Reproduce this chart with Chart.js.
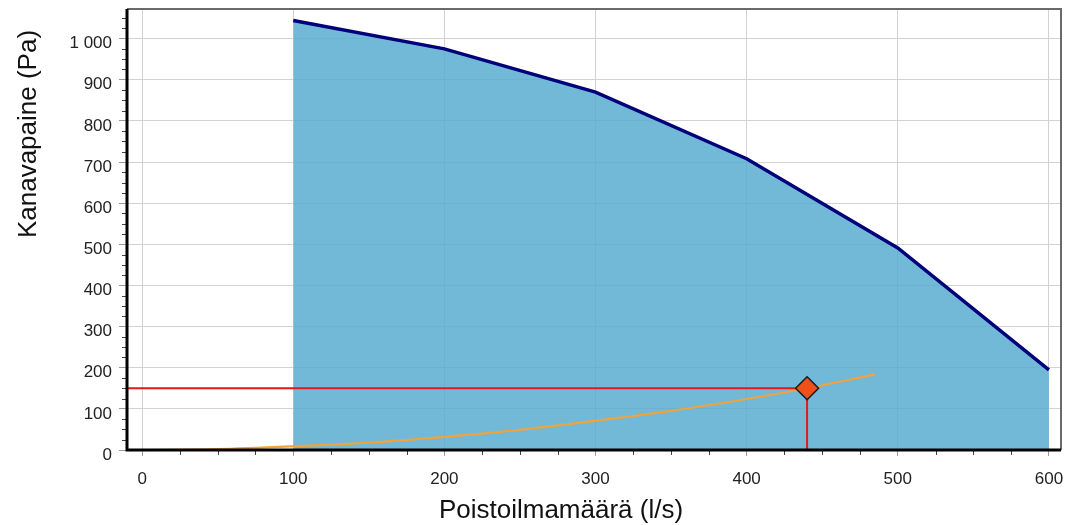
<!DOCTYPE html>
<html><head><meta charset="utf-8">
<script src="https://cdn.jsdelivr.net/npm/chart.js@4.4.0/dist/chart.umd.min.js"></script>
<style>html,body{margin:0;padding:0;background:#fff;}#wrap{width:1069px;height:525px;}</style>
</head><body><div id="wrap"><canvas id="c" width="1069" height="525"></canvas></div>
<script>
const xTitle = 'Poistoilmamäärä (l/s)';
const yTitle = 'Kanavapaine (Pa)';
const fanFlow = [100, 200, 300, 400, 500, 600];
const fanPressure = [1044, 975, 870, 708, 491, 195];
const systemFlow = [0, 50, 100, 150, 200, 250, 300, 350, 400, 440, 485];
const systemPressure = [0, 2, 9, 18, 32, 49, 71, 95, 124, 150, 184];
const opFlow = 440;
const opPressure = 150;
const xMin = -10, xMax = 608, yMin = 0, yMax = 1072;
const xTicks = [0, 100, 200, 300, 400, 500, 600];
const yTicks = [0, 100, 200, 300, 400, 500, 600, 700, 800, 900, 1000];
const minorStep = 25;

const FONT = "'Liberation Sans', Arial, sans-serif";
Chart.defaults.font.family = FONT;

function fmt(v) { return String(v).replace(/\B(?=(\d{3})+(?!\d))/g, '\u00a0'); }

const decor = {
  id: 'decor',
  afterDatasetsDraw(chart) {
    const ctx = chart.ctx, a = chart.chartArea;
    const xs = chart.scales.x, ys = chart.scales.y;
    ctx.save();
    ctx.strokeStyle = '#6a6a6a'; ctx.lineWidth = 2;
    ctx.beginPath();
    ctx.moveTo(a.left, a.top); ctx.lineTo(a.right, a.top); ctx.lineTo(a.right, a.bottom);
    ctx.stroke();
    ctx.strokeStyle = '#444'; ctx.lineWidth = 1;
    ctx.beginPath();
    for (let v = 0; v <= xMax; v += minorStep) {
      if (v % 100 === 0) continue;
      const px = Math.round(xs.getPixelForValue(v)) + 0.5;
      ctx.moveTo(px, a.bottom); ctx.lineTo(px, a.bottom + 5);
    }
    for (let v = 0; v <= yMax; v += minorStep) {
      if (v % 100 === 0) continue;
      const py = Math.round(ys.getPixelForValue(v)) + 0.5;
      ctx.moveTo(a.left - 5, py); ctx.lineTo(a.left, py);
    }
    ctx.stroke();
    ctx.strokeStyle = '#000'; ctx.lineWidth = 3;
    ctx.beginPath();
    ctx.moveTo(a.left, a.top); ctx.lineTo(a.left, a.bottom);
    ctx.moveTo(a.left - 1.5, a.bottom); ctx.lineTo(a.right, a.bottom);
    ctx.stroke();
    ctx.restore();
  },
  afterDraw(chart) {
    const ctx = chart.ctx;
    ctx.save();
    ctx.fillStyle = '#111';
    ctx.font = '26px ' + FONT;
    ctx.textAlign = 'center'; ctx.textBaseline = 'alphabetic';
    ctx.fillText(xTitle, 561, 518);
    ctx.translate(36, 134);
    ctx.rotate(-Math.PI / 2);
    ctx.fillText(yTitle, 0, 0);
    ctx.restore();
  }
};

new Chart(document.getElementById('c'), {
  type: 'line',
  data: {
    datasets: [
      {
        label: 'op', order: 0,
        data: [{x: opFlow, y: opPressure}],
        showLine: false, pointStyle: 'rectRot', pointRadius: 11.5,
        pointBackgroundColor: '#F04F17', pointBorderColor: '#1a1a1a', pointBorderWidth: 1.5
      },
      {
        label: 'red', order: 1,
        data: [{x: xMin, y: opPressure}, {x: opFlow, y: opPressure}, {x: opFlow, y: yMin}],
        borderColor: '#E8161C', borderWidth: 2, pointRadius: 0, fill: false
      },
      {
        label: 'system', order: 2,
        data: systemFlow.map((x, i) => ({x, y: systemPressure[i]})),
        borderColor: '#F0A23C', borderWidth: 2.2, pointRadius: 0, fill: false, tension: 0.3
      },
      {
        label: 'fan', order: 3,
        data: fanFlow.map((x, i) => ({x, y: fanPressure[i]})),
        borderColor: '#00007A', borderWidth: 3.5, pointRadius: 0,
        fill: 'origin', backgroundColor: 'rgba(89,173,209,0.85)', tension: 0
      }
    ]
  },
  options: {
    responsive: false, animation: false, devicePixelRatio: 1,
    layout: { autoPadding: false, padding: { top: 9, right: 8, left: 0, bottom: 0 } },
    plugins: { legend: { display: false }, tooltip: { enabled: false } },
    scales: {
      x: {
        type: 'linear', min: xMin, max: xMax,
        afterBuildTicks: s => { s.ticks = xTicks.map(v => ({value: v})); },
        afterFit: s => { s.height = 75; s.paddingLeft = 0; s.paddingRight = 0; },
        ticks: { font: { size: 17 }, color: '#222', padding: 13, maxRotation: 0, autoSkip: false, callback: v => fmt(v) },
        grid: { color: '#d2d2d2', lineWidth: 1, tickLength: 6, tickColor: '#9a9a9a' },
        border: { display: false }
      },
      y: {
        type: 'linear', min: yMin, max: yMax,
        afterBuildTicks: s => { s.ticks = yTicks.map(v => ({value: v})); },
        afterFit: s => { s.width = 127; s.paddingTop = 0; s.paddingBottom = 0; },
        ticks: { font: { size: 17 }, color: '#222', padding: 7, labelOffset: 5, autoSkip: false, callback: v => fmt(v) },
        grid: { color: '#d2d2d2', lineWidth: 1, tickLength: 8, tickColor: '#9a9a9a' },
        border: { display: false }
      }
    }
  },
  plugins: [decor]
});
</script></body></html>
